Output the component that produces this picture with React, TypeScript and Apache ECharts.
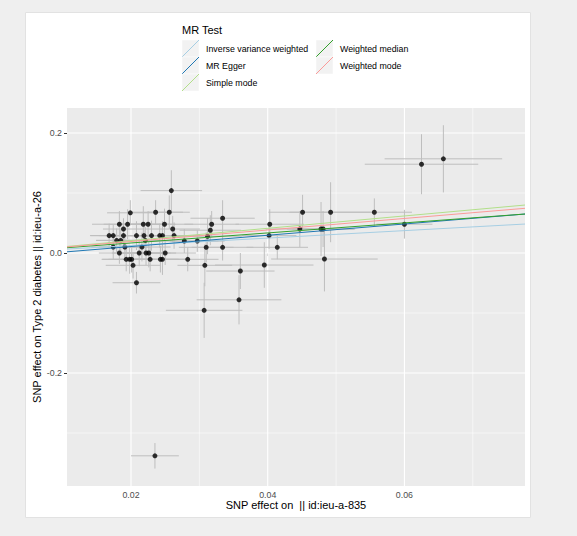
import React, { useEffect, useRef } from "react";
import * as echarts from "echarts";

// SNP effects on exposure (x) and outcome (y), with standard errors
const snpX = [
  0.0259, 0.0199, 0.0236, 0.0256, 0.0183, 0.0195, 0.0218, 0.0225, 0.0249, 0.0189,
  0.0261, 0.0168, 0.0174, 0.0189, 0.0208, 0.0219, 0.0230, 0.0242, 0.0246, 0.0263,
  0.0179, 0.0185, 0.0221, 0.0278, 0.0297, 0.0174, 0.0191, 0.0216, 0.0183, 0.0212,
  0.0222, 0.0226, 0.0250, 0.0193, 0.0198, 0.0201, 0.0228, 0.0243, 0.0246, 0.0283,
  0.0203, 0.0208, 0.0334, 0.0318, 0.0316, 0.0312, 0.0310, 0.0334, 0.0308, 0.0360,
  0.0395, 0.0403, 0.0402, 0.0414, 0.0358, 0.0307, 0.0625, 0.0657, 0.0451, 0.0492,
  0.0556, 0.0600, 0.0447, 0.0478, 0.0481, 0.0483, 0.0235,
];
const snpY = [
  0.104, 0.067, 0.068, 0.068, 0.048, 0.048, 0.048, 0.048, 0.048, 0.040,
  0.040, 0.029, 0.029, 0.029, 0.029, 0.029, 0.029, 0.029, 0.029, 0.029,
  0.021, 0.021, 0.021, 0.020, 0.020, 0.010, 0.010, 0.010, 0.000, 0.000,
  0.000, 0.000, 0.000, -0.0105, -0.0105, -0.0105, -0.0105, -0.0105, -0.0105, -0.0105,
  -0.0205, -0.0495, 0.058, 0.048, 0.038, 0.028, 0.0095, 0.0095, -0.0205, -0.030,
  -0.020, 0.048, 0.029, 0.0095, -0.078, -0.0955, 0.148, 0.157, 0.068, 0.068,
  0.068, 0.048, 0.040, 0.040, 0.040, -0.010, -0.338,
];
const snpXSe = [
  0.0045, 0.0034, 0.0040, 0.0030, 0.0040, 0.0035, 0.0038, 0.0040, 0.0042, 0.0030,
  0.0040, 0.0028, 0.0033, 0.0036, 0.0045, 0.0040, 0.0042, 0.0035, 0.0046, 0.0040,
  0.0030, 0.0036, 0.0040, 0.0050, 0.0040, 0.0032, 0.0038, 0.0042, 0.0030, 0.0040,
  0.0036, 0.0040, 0.0045, 0.0036, 0.0040, 0.0034, 0.0042, 0.0038, 0.0040, 0.0045,
  0.0040, 0.0035, 0.0047, 0.0040, 0.0045, 0.0050, 0.0040, 0.0045, 0.0040, 0.0050,
  0.0072, 0.0050, 0.0040, 0.0045, 0.0062, 0.0056, 0.0083, 0.0086, 0.0050, 0.0060,
  0.0055, 0.0041, 0.0050, 0.0050, 0.0045, 0.0078, 0.0035,
];
const snpYSe = [
  0.034, 0.021, 0.020, 0.028, 0.022, 0.025, 0.030, 0.022, 0.026, 0.018,
  0.022, 0.020, 0.018, 0.022, 0.024, 0.020, 0.025, 0.020, 0.024, 0.022,
  0.020, 0.018, 0.022, 0.020, 0.018, 0.020, 0.022, 0.024, 0.018, 0.022,
  0.020, 0.024, 0.020, 0.020, 0.024, 0.022, 0.020, 0.022, 0.026, 0.020,
  0.022, 0.018, 0.030, 0.022, 0.025, 0.030, 0.025, 0.022, 0.035, 0.030,
  0.038, 0.025, 0.022, 0.020, 0.041, 0.046, 0.050, 0.056, 0.029, 0.050,
  0.023, 0.024, 0.030, 0.045, 0.030, 0.054, 0.0213,
];

// MR methods: fitted lines y = intercept + slope * x
const methodNames = [
  "Inverse variance weighted",
  "MR Egger",
  "Simple mode",
  "Weighted median",
  "Weighted mode",
];
const methodColors = ["#a6cee3", "#1f78b4", "#b2df8a", "#33a02c", "#fb9a99"];
const methodIntercepts = [0, -0.008, 0, 0, 0];
const methodSlopes = [0.622, 0.94, 1.03, 0.837, 0.96];

// Axis ticks
const xTicks = [0.02, 0.04, 0.06];
const xMinorTicks = [0.03, 0.05, 0.07];
const yTicks = [-0.2, 0, 0.2];
const yMinorTicks = [-0.3, -0.1, 0.1];

const X_MIN = 0.010636;
const X_MAX = 0.07764;
const Y_MIN = -0.3883;
const Y_MAX = 0.2417;

const FONT = "'Liberation Sans', Arial, Helvetica, sans-serif";

function buildOption(): any {
  const gridLines: number[][] = [];
  xTicks.forEach((v) => gridLines.push([0, v, 1]));
  xMinorTicks.forEach((v) => gridLines.push([0, v, 0]));
  yTicks.forEach((v) => gridLines.push([1, v, 1]));
  yMinorTicks.forEach((v) => gridLines.push([1, v, 0]));

  const errData = snpX.map((x, i) => [x, snpY[i], snpXSe[i], snpYSe[i]]);
  const pointData = snpX.map((x, i) => [x, snpY[i]]);

  const lineSeries = methodNames.map((name, i) => ({
    name,
    type: "line",
    symbol: "none",
    silent: true,
    z: 5,
    lineStyle: { color: methodColors[i], width: 1 },
    data: [
      [X_MIN, methodIntercepts[i] + methodSlopes[i] * X_MIN],
      [X_MAX, methodIntercepts[i] + methodSlopes[i] * X_MAX],
    ],
  }));

  // Legend
  const legendChildren: any[] = [
    {
      type: "text",
      x: 182,
      y: 30,
      style: {
        text: "MR Test",
        font: `11px ${FONT}`,
        fill: "#000",
        textVerticalAlign: "middle",
        textAlign: "left",
      },
    },
  ];
  const legendPos = [
    [182, 40],
    [182, 57],
    [182, 74],
    [316, 40],
    [316, 57],
  ];
  methodNames.forEach((name, i) => {
    const [kx, ky] = legendPos[i];
    legendChildren.push({
      type: "rect",
      shape: { x: kx, y: ky, width: 17, height: 17 },
      style: { fill: "#f2f2f2", stroke: "#ffffff", lineWidth: 0.5 },
    });
    legendChildren.push({
      type: "line",
      shape: { x1: kx, y1: ky + 17, x2: kx + 17, y2: ky },
      style: { stroke: methodColors[i], lineWidth: 1 },
    });
    legendChildren.push({
      type: "text",
      x: kx + 24,
      y: ky + 8.5,
      style: {
        text: name,
        font: `8.8px ${FONT}`,
        fill: "#000",
        textVerticalAlign: "middle",
        textAlign: "left",
      },
    });
  });

  return {
    animation: false,
    backgroundColor: "#efefef",
    grid: {
      left: 67,
      top: 108,
      width: 458,
      height: 378,
      show: true,
      backgroundColor: "#ebebeb",
      borderWidth: 0,
      containLabel: false,
    },
    xAxis: {
      type: "value",
      min: X_MIN,
      max: X_MAX,
      axisLine: { show: false },
      splitLine: { show: false },
      axisTick: {
        show: true,
        length: 3,
        customValues: xTicks,
        lineStyle: { color: "#333333", width: 1 },
      },
      axisLabel: {
        customValues: xTicks,
        formatter: (v: number) => v.toFixed(2),
        color: "#4d4d4d",
        fontSize: 8.8,
        fontFamily: FONT,
        margin: 4,
      },
    },
    yAxis: {
      type: "value",
      min: Y_MIN,
      max: Y_MAX,
      axisLine: { show: false },
      splitLine: { show: false },
      axisTick: {
        show: true,
        length: 3,
        customValues: yTicks,
        lineStyle: { color: "#333333", width: 1 },
      },
      axisLabel: {
        customValues: yTicks,
        formatter: (v: number) => v.toFixed(1),
        color: "#4d4d4d",
        fontSize: 8.8,
        fontFamily: FONT,
        margin: 5,
      },
    },
    graphic: [
      {
        type: "rect",
        z: -100,
        shape: { x: 25.5, y: 12.5, width: 505, height: 505 },
        style: { fill: "#ffffff", stroke: "#e2e2e2", lineWidth: 1 },
      },
      { type: "group", children: legendChildren },
      {
        type: "text",
        x: 296,
        y: 505,
        style: {
          text: "SNP effect on  || id:ieu-a-835",
          font: `11px ${FONT}`,
          fill: "#000",
          textAlign: "center",
          textVerticalAlign: "middle",
        },
      },
      {
        type: "text",
        x: 37,
        y: 297,
        rotation: Math.PI / 2,
        style: {
          text: "SNP effect on Type 2 diabetes || id:ieu-a-26",
          font: `11px ${FONT}`,
          fill: "#000",
          textAlign: "center",
          textVerticalAlign: "middle",
        },
      },
    ],
    series: [
      {
        type: "custom",
        silent: true,
        z: 1,
        data: gridLines,
        encode: { x: 1, y: 1 },
        renderItem: (_p: any, api: any) => {
          const orient = api.value(0);
          const v = api.value(1);
          const major = api.value(2) === 1;
          let a: number[];
          let b: number[];
          if (orient === 0) {
            a = api.coord([v, Y_MIN]);
            b = api.coord([v, Y_MAX]);
          } else {
            a = api.coord([X_MIN, v]);
            b = api.coord([X_MAX, v]);
          }
          return {
            type: "line",
            shape: { x1: a[0], y1: a[1], x2: b[0], y2: b[1] },
            style: { stroke: "#ffffff", lineWidth: major ? 1.1 : 0.55 },
          };
        },
      },
      {
        type: "custom",
        silent: true,
        z: 2,
        data: errData,
        encode: { x: 0, y: 1 },
        renderItem: (_p: any, api: any) => {
          const x = api.value(0);
          const y = api.value(1);
          const xe = api.value(2);
          const ye = api.value(3);
          const l = api.coord([x - xe, y]);
          const r = api.coord([x + xe, y]);
          const t = api.coord([x, y + ye]);
          const b = api.coord([x, y - ye]);
          return {
            type: "group",
            children: [
              {
                type: "line",
                shape: { x1: l[0], y1: l[1], x2: r[0], y2: r[1] },
                style: { stroke: "#bebebe", lineWidth: 1 },
              },
              {
                type: "line",
                shape: { x1: t[0], y1: t[1], x2: b[0], y2: b[1] },
                style: { stroke: "#bebebe", lineWidth: 1 },
              },
            ],
          };
        },
      },
      {
        type: "scatter",
        silent: true,
        z: 3,
        symbolSize: 5,
        itemStyle: { color: "#000000" },
        data: pointData,
      },
      ...lineSeries,
    ],
  };
}

export default function App() {
  const ref = useRef<HTMLDivElement>(null);
  useEffect(() => {
    if (!ref.current) return;
    const chart = echarts.init(ref.current, null, { renderer: "svg" });
    chart.setOption(buildOption());
    return () => {
      chart.dispose();
    };
  }, []);
  return (
    <div
      ref={ref}
      style={{ position: "absolute", left: 0, top: 0, width: 577, height: 536 }}
    />
  );
}
